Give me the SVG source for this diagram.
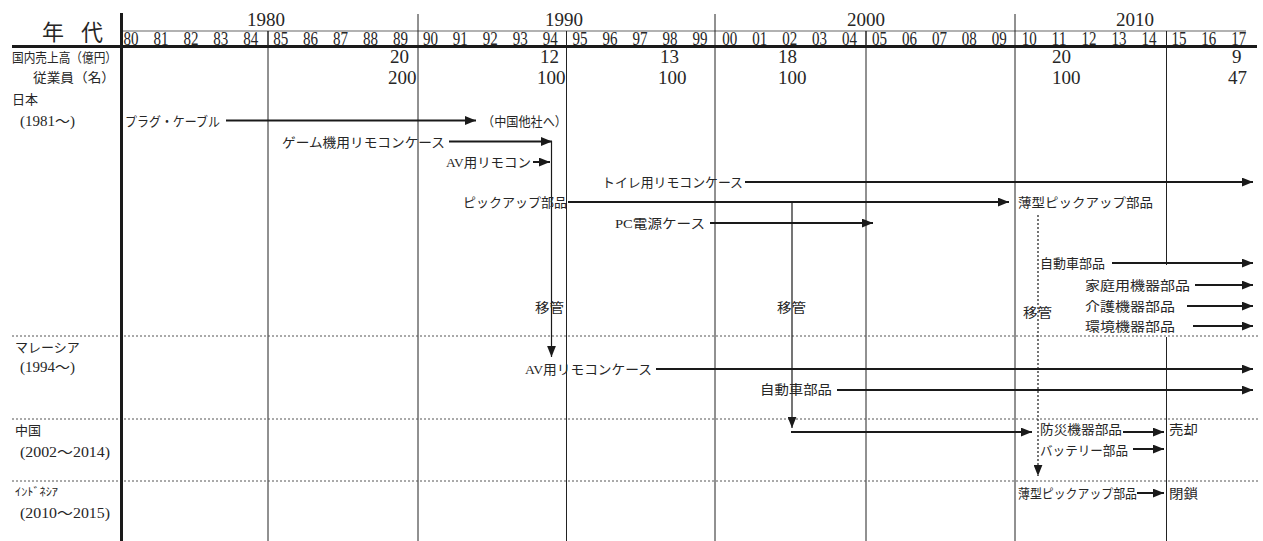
<svg xmlns="http://www.w3.org/2000/svg" width="1263" height="541" viewBox="0 0 1263 541">
<style>
text{font-family:"Liberation Serif","Noto Sans CJK JP",serif;fill:#262626}
.j{font-size:13px}
.p{font-size:14px}
.n{font-size:19px}
.y{font-size:19px}
.grid{stroke:#222;stroke-width:1}
.dot{stroke:#555;stroke-width:1;stroke-dasharray:2 2}
.arr{stroke:#1a1a1a;stroke-width:2;fill:none;marker-end:url(#ah)}
.tv{stroke:#1a1a1a;stroke-width:1.2;fill:none;marker-end:url(#ah)}
.tvd{stroke:#1a1a1a;stroke-width:1.2;fill:none;stroke-dasharray:2 2;marker-end:url(#ah)}
</style>
<defs>
<marker id="ah" markerUnits="userSpaceOnUse" markerWidth="11" markerHeight="9" refX="10" refY="4" orient="auto" viewBox="0 0 10 8">
<path d="M0,0 L10,4 L0,8 z" fill="#1a1a1a"/>
</marker>
</defs>
<rect width="1263" height="541" fill="#fff"/>

<g id="frame">
<line x1="121" y1="31" x2="1246" y2="31" stroke="#999" stroke-width="1.5"/>
<line class="grid" x1="268" y1="31" x2="268" y2="541"/>
<line class="grid" x1="418" y1="14" x2="418" y2="541"/>
<line class="grid" x1="566.5" y1="31" x2="566.5" y2="541"/>
<line class="grid" x1="715" y1="14" x2="715" y2="541"/>
<line class="grid" x1="866" y1="31" x2="866" y2="541"/>
<line class="grid" x1="1015" y1="14" x2="1015" y2="541"/>
<line class="grid" x1="1166.5" y1="31" x2="1166.5" y2="265"/>
<line class="grid" x1="1166.5" y1="337" x2="1166.5" y2="541"/>
<line class="dot" x1="12" y1="336" x2="1258" y2="336"/>
<line class="dot" x1="12" y1="419" x2="1258" y2="419"/>
<line class="dot" x1="12" y1="481" x2="1258" y2="481"/>
<line x1="12" y1="46.5" x2="1257" y2="46.5" stroke="#1a1a1a" stroke-width="3"/>
<line x1="121.5" y1="13" x2="121.5" y2="541" stroke="#1a1a1a" stroke-width="3"/>
</g>

<g id="header">
<text x="42" y="40" style="font-size:22px">年</text>
<text x="81" y="40" style="font-size:22px">代</text>
<text class="y" x="266" y="26" text-anchor="middle">1980</text>
<text class="y" x="564" y="26" text-anchor="middle">1990</text>
<text class="y" x="866" y="26" text-anchor="middle">2000</text>
<text class="y" x="1135" y="26" text-anchor="middle">2010</text>
<g class="y">
<text x="123.5" y="44.5" textLength="15" lengthAdjust="spacingAndGlyphs">80</text>
<text x="153.4" y="44.5" textLength="15" lengthAdjust="spacingAndGlyphs">81</text>
<text x="183.4" y="44.5" textLength="15" lengthAdjust="spacingAndGlyphs">82</text>
<text x="213.3" y="44.5" textLength="15" lengthAdjust="spacingAndGlyphs">83</text>
<text x="243.3" y="44.5" textLength="15" lengthAdjust="spacingAndGlyphs">84</text>
<text x="273.2" y="44.5" textLength="15" lengthAdjust="spacingAndGlyphs">85</text>
<text x="303.1" y="44.5" textLength="15" lengthAdjust="spacingAndGlyphs">86</text>
<text x="333.1" y="44.5" textLength="15" lengthAdjust="spacingAndGlyphs">87</text>
<text x="363.0" y="44.5" textLength="15" lengthAdjust="spacingAndGlyphs">88</text>
<text x="393.0" y="44.5" textLength="15" lengthAdjust="spacingAndGlyphs">89</text>
<text x="422.9" y="44.5" textLength="15" lengthAdjust="spacingAndGlyphs">90</text>
<text x="452.8" y="44.5" textLength="15" lengthAdjust="spacingAndGlyphs">91</text>
<text x="482.8" y="44.5" textLength="15" lengthAdjust="spacingAndGlyphs">92</text>
<text x="512.7" y="44.5" textLength="15" lengthAdjust="spacingAndGlyphs">93</text>
<text x="542.7" y="44.5" textLength="15" lengthAdjust="spacingAndGlyphs">94</text>
<text x="572.6" y="44.5" textLength="15" lengthAdjust="spacingAndGlyphs">95</text>
<text x="602.5" y="44.5" textLength="15" lengthAdjust="spacingAndGlyphs">96</text>
<text x="632.5" y="44.5" textLength="15" lengthAdjust="spacingAndGlyphs">97</text>
<text x="662.4" y="44.5" textLength="15" lengthAdjust="spacingAndGlyphs">98</text>
<text x="692.4" y="44.5" textLength="15" lengthAdjust="spacingAndGlyphs">99</text>
<text x="722.3" y="44.5" textLength="15" lengthAdjust="spacingAndGlyphs">00</text>
<text x="752.2" y="44.5" textLength="15" lengthAdjust="spacingAndGlyphs">01</text>
<text x="782.2" y="44.5" textLength="15" lengthAdjust="spacingAndGlyphs">02</text>
<text x="812.1" y="44.5" textLength="15" lengthAdjust="spacingAndGlyphs">03</text>
<text x="842.1" y="44.5" textLength="15" lengthAdjust="spacingAndGlyphs">04</text>
<text x="872.0" y="44.5" textLength="15" lengthAdjust="spacingAndGlyphs">05</text>
<text x="901.9" y="44.5" textLength="15" lengthAdjust="spacingAndGlyphs">06</text>
<text x="931.9" y="44.5" textLength="15" lengthAdjust="spacingAndGlyphs">07</text>
<text x="961.8" y="44.5" textLength="15" lengthAdjust="spacingAndGlyphs">08</text>
<text x="991.8" y="44.5" textLength="15" lengthAdjust="spacingAndGlyphs">09</text>
<text x="1021.7" y="44.5" textLength="15" lengthAdjust="spacingAndGlyphs">10</text>
<text x="1051.6" y="44.5" textLength="15" lengthAdjust="spacingAndGlyphs">11</text>
<text x="1081.6" y="44.5" textLength="15" lengthAdjust="spacingAndGlyphs">12</text>
<text x="1111.5" y="44.5" textLength="15" lengthAdjust="spacingAndGlyphs">13</text>
<text x="1141.5" y="44.5" textLength="15" lengthAdjust="spacingAndGlyphs">14</text>
<text x="1171.4" y="44.5" textLength="15" lengthAdjust="spacingAndGlyphs">15</text>
<text x="1201.3" y="44.5" textLength="15" lengthAdjust="spacingAndGlyphs">16</text>
<text x="1231.3" y="44.5" textLength="15" lengthAdjust="spacingAndGlyphs">17</text>
</g>
<g stroke="#222" stroke-width="1">
<line x1="268" y1="31" x2="268" y2="46"/>
<line x1="566.5" y1="31" x2="566.5" y2="46"/>
<line x1="866" y1="31" x2="866" y2="46"/>
<line x1="1166.5" y1="31" x2="1166.5" y2="46"/>
</g>
</g>

<g id="row-labels">
<text class="j" x="12" y="62" textLength="105" lengthAdjust="spacingAndGlyphs">国内売上高（億円）</text>
<text class="j" x="33" y="82" textLength="82" lengthAdjust="spacingAndGlyphs">従業員（名）</text>
<text class="j" x="12" y="104">日本</text>
<text class="p" x="20" y="126" textLength="55" lengthAdjust="spacingAndGlyphs">(1981〜)</text>
<text class="j" x="15" y="352">マレーシア</text>
<text class="p" x="20" y="372" textLength="55" lengthAdjust="spacingAndGlyphs">(1994〜)</text>
<text class="j" x="15" y="435">中国</text>
<text class="p" x="20" y="457" textLength="90" lengthAdjust="spacingAndGlyphs">(2002〜2014)</text>
<text x="15" y="496" style="font-size:11px" textLength="43" lengthAdjust="spacingAndGlyphs">ｲﾝﾄﾞﾈｼｱ</text>
<text class="p" x="20" y="518" textLength="90" lengthAdjust="spacingAndGlyphs">(2010〜2015)</text>
</g>

<g id="figures">
<text class="n" x="390" y="63">20</text>
<text class="n" x="388" y="84">200</text>
<text class="n" x="540" y="63">12</text>
<text class="n" x="537" y="84">100</text>
<text class="n" x="660" y="63">13</text>
<text class="n" x="658" y="84">100</text>
<text class="n" x="778" y="63">18</text>
<text class="n" x="778" y="84">100</text>
<text class="n" x="1052" y="63">20</text>
<text class="n" x="1052" y="84">100</text>
<text class="n" x="1232" y="63">9</text>
<text class="n" x="1228" y="84">47</text>
</g>

<g id="connectors">
<line class="arr" x1="226" y1="120.5" x2="476" y2="120.5"/>
<line class="arr" x1="449" y1="141.5" x2="552" y2="141.5"/>
<line class="arr" x1="533" y1="162" x2="550" y2="162"/>
<line class="arr" x1="745" y1="182" x2="1253" y2="182"/>
<line class="arr" x1="568" y1="202" x2="1009" y2="202"/>
<line class="arr" x1="710" y1="223" x2="873" y2="223"/>
<line class="arr" x1="1112" y1="263" x2="1253" y2="263"/>
<line class="arr" x1="1195" y1="285" x2="1253" y2="285"/>
<line class="arr" x1="1187" y1="306" x2="1253" y2="306"/>
<line class="arr" x1="1193" y1="326" x2="1253" y2="326"/>
<line class="arr" x1="656" y1="369" x2="1253" y2="369"/>
<line class="arr" x1="837" y1="390" x2="1253" y2="390"/>
<line class="arr" x1="791" y1="432" x2="1032" y2="432"/>
<line class="arr" x1="1123" y1="432" x2="1164" y2="432"/>
<line class="arr" x1="1133" y1="449" x2="1164" y2="449"/>
<line class="arr" x1="1137" y1="493" x2="1164" y2="493"/>
<line class="tv" x1="551.5" y1="141" x2="551.5" y2="357"/>
<line class="tv" x1="792" y1="203" x2="792" y2="428"/>
<line class="tvd" x1="1038" y1="215" x2="1038" y2="476"/>
</g>

<g id="japan">
<g id="n-plug"><text class="j" x="125" y="126" textLength="95" lengthAdjust="spacingAndGlyphs">プラグ・ケーブル</text></g>
<g id="n-china-other"><text class="j" x="482" y="126" textLength="85" lengthAdjust="spacingAndGlyphs">（中国他社へ）</text></g>
<g id="n-game"><text class="j" x="282" y="146.5" textLength="163" lengthAdjust="spacingAndGlyphs">ゲーム機用リモコンケース</text></g>
<g id="n-av"><text class="j" x="446" y="167" textLength="85" lengthAdjust="spacingAndGlyphs">AV用リモコン</text></g>
<g id="n-toilet"><text class="j" x="602" y="187" textLength="141" lengthAdjust="spacingAndGlyphs">トイレ用リモコンケース</text></g>
<g id="n-pickup"><text class="j" x="463" y="207" textLength="104" lengthAdjust="spacingAndGlyphs">ピックアップ部品</text></g>
<g id="n-thin-pickup"><text class="j" x="1018" y="207" textLength="135" lengthAdjust="spacingAndGlyphs">薄型ピックアップ部品</text></g>
<g id="n-pc"><text class="j" x="615" y="228" textLength="90" lengthAdjust="spacingAndGlyphs">PC電源ケース</text></g>
<g id="n-auto-jp"><text class="j" x="1040" y="268" textLength="65" lengthAdjust="spacingAndGlyphs">自動車部品</text></g>
<g id="n-home"><text class="j" x="1085" y="290" textLength="105" lengthAdjust="spacingAndGlyphs">家庭用機器部品</text></g>
<g id="n-care"><text class="j" x="1085" y="311" textLength="90" lengthAdjust="spacingAndGlyphs">介護機器部品</text></g>
<g id="n-env"><text class="j" x="1085" y="331" textLength="90" lengthAdjust="spacingAndGlyphs">環境機器部品</text></g>
<g id="n-transfer1"><text class="j" x="535" y="312" textLength="29" lengthAdjust="spacingAndGlyphs">移管</text></g>
<g id="n-transfer2"><text class="j" x="777" y="312" textLength="29" lengthAdjust="spacingAndGlyphs">移管</text></g>
<g id="n-transfer3"><text class="j" x="1023" y="317" textLength="29" lengthAdjust="spacingAndGlyphs">移管</text></g>
</g>

<g id="malaysia">
<g id="n-av-case"><text class="j" x="525" y="374" textLength="127" lengthAdjust="spacingAndGlyphs">AV用リモコンケース</text></g>
<g id="n-auto-my"><text class="j" x="760" y="394" textLength="72" lengthAdjust="spacingAndGlyphs">自動車部品</text></g>
</g>

<g id="china">
<g id="n-disaster"><text class="j" x="1040" y="434" textLength="82" lengthAdjust="spacingAndGlyphs">防災機器部品</text></g>
<g id="n-sold"><text class="j" x="1169" y="434" textLength="29" lengthAdjust="spacingAndGlyphs">売却</text></g>
<g id="n-battery"><text class="j" x="1040" y="455" textLength="88" lengthAdjust="spacingAndGlyphs">バッテリー部品</text></g>
</g>

<g id="indonesia">
<g id="n-thin-pickup-id"><text class="j" x="1018" y="498" textLength="119" lengthAdjust="spacingAndGlyphs">薄型ピックアップ部品</text></g>
<g id="n-closed"><text class="j" x="1169" y="498" textLength="29" lengthAdjust="spacingAndGlyphs">閉鎖</text></g>
</g>
</svg>
